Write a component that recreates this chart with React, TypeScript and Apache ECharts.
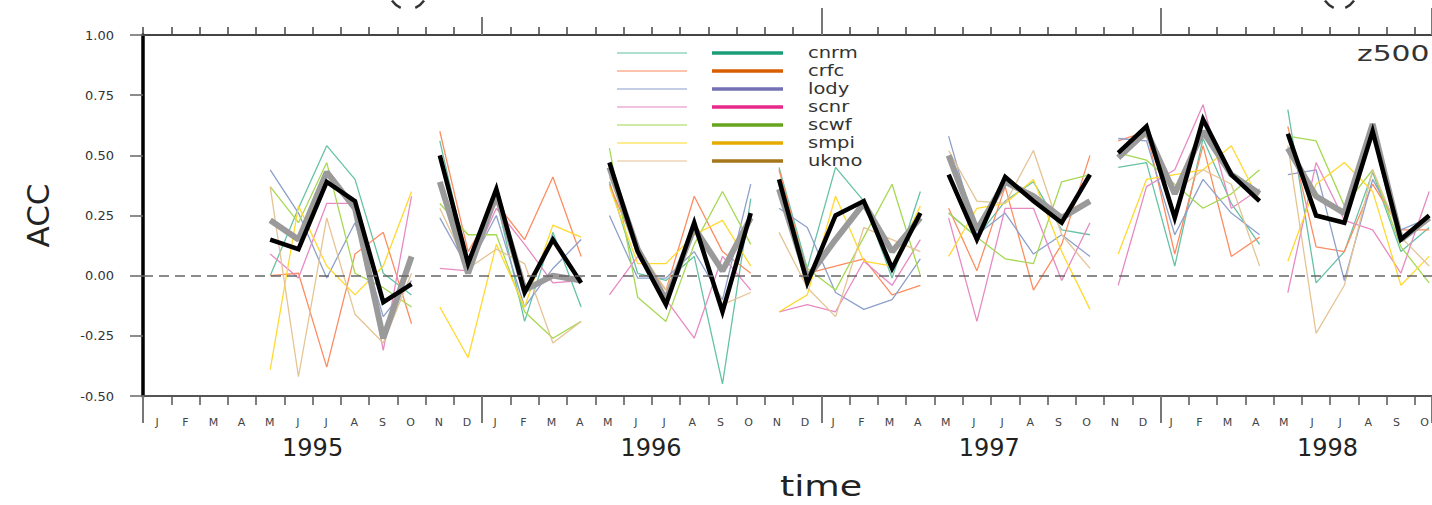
import React, { useEffect, useRef } from "react";
import * as echarts from "echarts";

// ---------- data ----------
const monthLetters = ["J", "F", "M", "A", "M", "J", "J", "A", "S", "O", "N", "D"];
const years = ["1995", "1996", "1997", "1998"];
const models = ["cnrm", "crfc", "lody", "scnr", "scwf", "smpi", "ukmo"];
const lightColors = ["#66c2a5", "#fc8d62", "#8da0cb", "#e78ac3", "#a6d854", "#ffd92f", "#e5c494"];
const darkColors = ["#1b9e77", "#d95f02", "#7570b3", "#e7298a", "#66a61e", "#e6ab02", "#a6761d"];

const firstMonth = 4; // May 1995 (months counted from Jan 1995)
const seasonLength = 6;
const monthsShown = 45.6; // visible months from Jan 1995

// 7 seasons x 6 months: MJJASO95, NDJFMA95/96, MJJASO96, NDJFMA96/97, MJJASO97, NDJFMA97/98, MJJASO98
const cnrm = [
  0.0, 0.28, 0.54, 0.4, 0.01, -0.08,
  0.56, 0.05, 0.32, -0.19, 0.18, -0.13,
  0.39, 0.01, -0.02, 0.08, -0.45, 0.32,
  0.45, 0.03, 0.45, 0.31, -0.01, 0.35,
  0.26, 0.16, 0.31, 0.39, 0.19, 0.17,
  0.45, 0.47, 0.04, 0.57, 0.3, 0.13,
  0.69, -0.03, 0.1, 0.43, 0.1, 0.2,
];
const crfc = [
  0.0, 0.01, -0.38, 0.09, 0.18, -0.2,
  0.6, 0.1, 0.3, 0.15, 0.41, 0.08,
  0.38, 0.1, -0.06, 0.33, 0.1, 0.01,
  0.44, 0.01, 0.04, 0.07, -0.08, -0.04,
  0.28, 0.02, 0.37, -0.06, 0.13, 0.5,
  0.56, 0.6, 0.09, 0.54, 0.08, 0.16,
  0.62, 0.12, 0.1, 0.38, 0.19, 0.19,
];
const lody = [
  0.44, 0.26, -0.01, 0.22, -0.17, -0.02,
  0.24, 0.03, 0.25, -0.13, 0.03, 0.15,
  0.25, -0.01, -0.01, 0.1, -0.1, 0.38,
  0.28, 0.2, -0.07, -0.14, -0.1, 0.07,
  0.58, 0.17, 0.26, 0.09, 0.17, 0.08,
  0.57, 0.56, 0.17, 0.4, 0.26, 0.17,
  0.42, 0.44, -0.02, 0.4, 0.19, 0.24,
];
const scnr = [
  0.09, -0.01, 0.3, 0.3, -0.31, 0.33,
  0.03, 0.02, 0.28, 0.13, -0.03, -0.02,
  -0.08, 0.08, -0.1, -0.26, 0.08, -0.06,
  -0.15, -0.12, -0.15, 0.06, -0.04, 0.15,
  0.24, -0.19, 0.28, 0.28, -0.02, 0.22,
  -0.04, 0.37, 0.44, 0.71, 0.28, 0.36,
  -0.07, 0.47, 0.23, 0.19, 0.01, 0.35,
];
const scwf = [
  0.37, 0.22, 0.47, 0.01, -0.05, -0.13,
  0.3, 0.17, 0.17, -0.15, -0.26, -0.19,
  0.53, -0.09, -0.19, 0.13, 0.35, 0.13,
  0.38, 0.03, -0.06, 0.16, 0.38, 0.0,
  0.26, 0.16, 0.07, 0.05, 0.39, 0.42,
  0.51, 0.48, 0.38, 0.28, 0.34, 0.44,
  0.58, 0.56, 0.29, 0.44, 0.12, -0.03,
];
const smpi = [
  -0.39, 0.29, 0.04, -0.08, 0.04, 0.35,
  -0.13, -0.34, 0.13, -0.13, 0.21, 0.16,
  0.37, 0.05, 0.05, 0.17, 0.23, 0.04,
  -0.15, -0.08, 0.33, 0.06, 0.04, 0.29,
  0.08, 0.28, 0.3, 0.4, 0.1, -0.14,
  0.09, 0.4, 0.42, 0.44, 0.54, 0.31,
  0.06, 0.38, 0.47, 0.35, -0.04, 0.08,
];
const ukmo = [
  0.37, -0.42, 0.24, -0.16, -0.28, 0.01,
  0.28, 0.03, 0.11, 0.05, -0.28, -0.19,
  0.41, 0.12, -0.06, 0.2, -0.12, -0.07,
  0.18, -0.05, -0.17, 0.2, 0.15, 0.1,
  0.52, 0.31, 0.3, 0.52, 0.17, 0.03,
  0.51, 0.58, 0.35, 0.44, 0.38, 0.04,
  0.54, -0.24, -0.04, 0.44, 0.16, 0.04,
];
const multiModelGray = [
  0.23, 0.15, 0.43, 0.28, -0.26, 0.08,
  0.39, 0.01, 0.34, -0.06, 0.0, -0.02,
  0.45, 0.11, -0.1, 0.2, 0.02, 0.24,
  0.36, -0.01, 0.15, 0.3, 0.1, 0.24,
  0.5, 0.19, 0.39, 0.33, 0.24, 0.31,
  0.49, 0.6, 0.34, 0.6, 0.42, 0.34,
  0.53, 0.33, 0.26, 0.63, 0.15, 0.24,
];
const multiModelBlack = [
  0.15, 0.11, 0.39, 0.31, -0.11, -0.035,
  0.5, 0.05, 0.36, -0.07, 0.15, -0.03,
  0.47, 0.1, -0.12, 0.22, -0.15, 0.26,
  0.4, -0.03, 0.25, 0.31, 0.03, 0.26,
  0.42, 0.15, 0.41, 0.31, 0.22, 0.42,
  0.51, 0.62, 0.24, 0.65, 0.42, 0.31,
  0.59, 0.25, 0.22, 0.6, 0.15, 0.25,
];
const modelValues = [cnrm, crfc, lody, scnr, scwf, smpi, ukmo];

// ---------- helpers ----------
function toSeasonData(arr: number[]) {
  const out: any[] = [];
  const nSeasons = arr.length / seasonLength;
  for (let s = 0; s < nSeasons; s++) {
    for (let i = 0; i < seasonLength; i++) {
      // plotted at month centre
      out.push([firstMonth + s * seasonLength + i + 0.5, arr[s * seasonLength + i]]);
    }
    out.push([firstMonth + s * seasonLength + seasonLength, "-"]);
  }
  return out;
}
const isInt = (v: number) => Math.abs(v - Math.round(v)) < 1e-6;

const FONT = "DejaVu Sans, Verdana, sans-serif";

// layout
const PLOT_LEFT = 143;
const PLOT_TOP = 35;
const PLOT_BOTTOM = 109;
const PLOT_WIDTH = 1432 - PLOT_LEFT;
const MONTH_PX = PLOT_WIDTH / monthsShown;
const DEG = Math.PI / 180;

// clipped bracket fragments of panel titles at the top edge
function bracketPair(left: number, right: number) {
  const style = { stroke: "#333", lineWidth: 2.5, fill: "none" };
  return [
    {
      type: "arc",
      shape: { cx: left + 19, cy: -12, r: 22, startAngle: 115 * DEG, endAngle: 145 * DEG },
      style,
    },
    {
      type: "arc",
      shape: { cx: right - 19, cy: -12, r: 22, startAngle: 35 * DEG, endAngle: 65 * DEG },
      style,
    },
  ];
}

export default function App() {
  const ref = useRef<HTMLDivElement>(null);

  useEffect(() => {
    if (!ref.current) return;
    const chart = echarts.init(ref.current, null, { renderer: "svg" });

    const series: any[] = models.map((m, i) => ({
      name: m,
      type: "line",
      data: toSeasonData(modelValues[i]),
      xAxisIndex: 0,
      yAxisIndex: 0,
      showSymbol: false,
      connectNulls: false,
      lineStyle: { color: lightColors[i], width: 1.3 },
      itemStyle: { color: lightColors[i] },
      z: 2,
      ...(i === 0
        ? {
            markLine: {
              silent: true,
              symbol: "none",
              label: { show: false },
              lineStyle: { color: "#666", type: [10, 6], width: 1.5 },
              data: [{ yAxis: 0 }],
            },
          }
        : {}),
    }));
    series.push({
      name: "gray",
      type: "line",
      data: toSeasonData(multiModelGray),
      showSymbol: false,
      connectNulls: false,
      lineStyle: { color: "#9a9a9a", width: 6 },
      z: 3,
    });
    series.push({
      name: "black",
      type: "line",
      data: toSeasonData(multiModelBlack),
      showSymbol: false,
      connectNulls: false,
      lineStyle: { color: "#000", width: 4.5, join: "miter" },
      z: 4,
    });

    const legendGraphics: any[] = [];
    models.forEach((m, i) => {
      const y = 53 + i * 18;
      legendGraphics.push({
        type: "line",
        shape: { x1: 617, y1: y, x2: 687, y2: y },
        style: { stroke: lightColors[i], lineWidth: 1.3, opacity: 0.7 },
      });
      legendGraphics.push({
        type: "line",
        shape: { x1: 712, y1: y, x2: 783, y2: y },
        style: { stroke: darkColors[i], lineWidth: 3.5 },
      });
      legendGraphics.push({
        type: "text",
        x: 808,
        y: y,
        scaleX: 1.3,
        style: { text: m, fill: "#333", font: `15px ${FONT}`, verticalAlign: "middle" },
      });
    });

    const hiddenLabel = { show: false };
    const noSplit = { show: false };
    const noTick = { show: false };
    const gridBox = { top: PLOT_TOP, bottom: PLOT_BOTTOM, right: 0, containLabel: false };

    chart.setOption({
      animation: false,
      backgroundColor: "#fff",
      grid: [
        { ...gridBox, left: PLOT_LEFT },
        { ...gridBox, left: PLOT_LEFT + MONTH_PX / 2 },
        { ...gridBox, left: PLOT_LEFT + MONTH_PX * 6 },
        { ...gridBox, left: PLOT_LEFT + MONTH_PX * 12 },
        { ...gridBox, left: PLOT_LEFT + MONTH_PX * 24 },
      ],
      xAxis: [
        {
          // main data axis with month boundary ticks
          type: "value",
          gridIndex: 0,
          position: "bottom",
          min: 0,
          max: monthsShown,
          interval: 1,
          axisLine: { show: true, onZero: false, lineStyle: { color: "#555", width: 2 } },
          axisTick: { show: true, length: 9, lineStyle: { color: "#555", width: 1.5 } },
          axisLabel: hiddenLabel,
          splitLine: noSplit,
        },
        {
          // year boundary ticks (bottom)
          type: "value",
          gridIndex: 0,
          position: "bottom",
          min: 0,
          max: monthsShown,
          interval: 12,
          axisLine: { show: false, onZero: false },
          axisTick: { show: true, length: 27, lineStyle: { color: "#777", width: 2 } },
          axisLabel: hiddenLabel,
          splitLine: noSplit,
        },
        {
          // top month ticks
          type: "value",
          gridIndex: 0,
          position: "top",
          min: 0,
          max: monthsShown,
          interval: 1,
          axisLine: { show: true, onZero: false, lineStyle: { color: "#444", width: 2 } },
          axisTick: { show: true, length: 8, lineStyle: { color: "#444", width: 1.5 } },
          axisLabel: hiddenLabel,
          splitLine: noSplit,
        },
        {
          // top year tick for 1996 (shorter)
          type: "value",
          gridIndex: 3,
          position: "top",
          min: 0,
          max: monthsShown - 12,
          interval: 12,
          axisLine: { show: false, onZero: false },
          axisTick: { show: true, length: 18, lineStyle: { color: "#777", width: 2 } },
          axisLabel: hiddenLabel,
          splitLine: noSplit,
        },
        {
          // top year ticks for 1997, 1998
          type: "value",
          gridIndex: 4,
          position: "top",
          min: 0,
          max: monthsShown - 24,
          interval: 12,
          axisLine: { show: false, onZero: false },
          axisTick: { show: true, length: 27, lineStyle: { color: "#777", width: 2 } },
          axisLabel: hiddenLabel,
          splitLine: noSplit,
        },
        {
          // month letters at month centres
          type: "value",
          gridIndex: 1,
          position: "bottom",
          min: 0,
          max: monthsShown - 0.5,
          interval: 1,
          axisLine: { show: false, onZero: false },
          axisTick: noTick,
          axisLabel: {
            margin: 21,
            fontSize: 11,
            color: "#444",
            fontFamily: FONT,
            formatter: (v: number) => (isInt(v) ? monthLetters[Math.round(v) % 12] : ""),
          },
          splitLine: noSplit,
        },
        {
          // year labels at year centres
          type: "value",
          gridIndex: 2,
          position: "bottom",
          min: 0,
          max: (monthsShown - 6) / 12,
          interval: 1,
          axisLine: { show: false, onZero: false },
          axisTick: noTick,
          axisLabel: {
            margin: 40,
            fontSize: 24,
            color: "#222",
            fontFamily: FONT,
            formatter: (v: number) =>
              isInt(v) && Math.round(v) < years.length ? years[Math.round(v)] : "",
          },
          splitLine: noSplit,
        },
      ],
      yAxis: [
        {
          type: "value",
          gridIndex: 0,
          min: -0.5,
          max: 1,
          interval: 0.25,
          name: "ACC",
          nameLocation: "middle",
          nameGap: 105,
          nameRotate: 90,
          nameTextStyle: { fontSize: 31, color: "#222", fontFamily: FONT, verticalAlign: "middle" },
          axisLine: { show: true, onZero: false, lineStyle: { color: "#000", width: 3.5 } },
          axisTick: { show: true, length: 13, lineStyle: { color: "#666", width: 1.5 } },
          axisLabel: {
            margin: 29,
            fontSize: 13,
            color: "#333",
            fontFamily: FONT,
            formatter: (v: number) => v.toFixed(2),
          },
          splitLine: noSplit,
        },
        { type: "value", gridIndex: 1, min: -0.5, max: 1, show: false },
        { type: "value", gridIndex: 2, min: -0.5, max: 1, show: false },
        { type: "value", gridIndex: 3, min: -0.5, max: 1, show: false },
        { type: "value", gridIndex: 4, min: -0.5, max: 1, show: false },
      ],
      graphic: [
        ...legendGraphics,
        {
          type: "text",
          x: 1357,
          y: 54,
          scaleX: 1.42,
          style: { text: "z500", fill: "#333", font: `21px ${FONT}`, verticalAlign: "middle" },
        },
        {
          type: "text",
          x: 821,
          y: 487,
          scaleX: 1.3,
          style: {
            text: "time",
            fill: "#222",
            font: `28px ${FONT}`,
            align: "center",
            verticalAlign: "middle",
          },
        },
        ...bracketPair(391, 425),
        ...bracketPair(1324, 1355),
      ],
      series,
    });

    return () => chart.dispose();
  }, []);

  return (
    <div
      ref={ref}
      style={{ position: "absolute", left: 0, top: 0, width: 1432, height: 505, background: "#fff" }}
    />
  );
}
